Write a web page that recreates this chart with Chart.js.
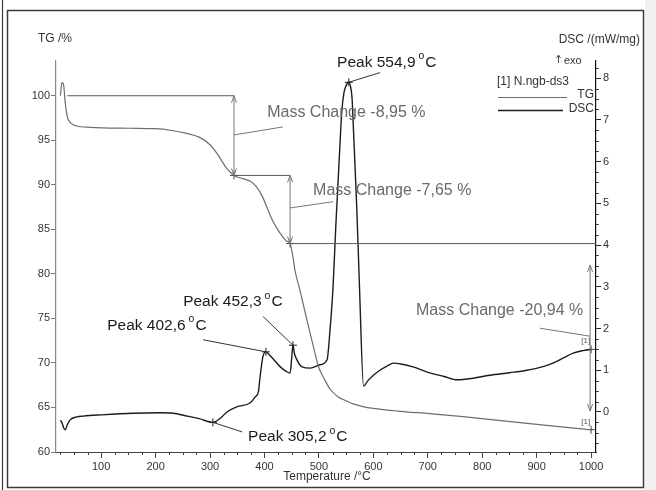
<!DOCTYPE html>
<html><head><meta charset="utf-8">
<script src="https://cdn.jsdelivr.net/npm/chart.js@4.4.0/dist/chart.umd.min.js"></script>
<style>html,body{margin:0;padding:0;background:#fff;}canvas{display:block;}</style>
</head><body>
<canvas id="c" width="656" height="490"></canvas>
<script>
// ---- data ----
const TEMP_TG = [25,28,31,34,38,45,55,80,150,200,230,255,280,300,313,330,344,360,374,385,396,405,414,424,433,440,447,452,456,465,480,490,499,510,520,535,552,563,581,600,644,704,760,870,950,1000];
const TG_PCT  = [100.0,101.5,101.2,99.2,97.6,96.9,96.6,96.45,96.35,96.3,96.1,95.8,95.35,94.5,93.5,91.9,91.05,90.7,90.4,89.8,88.7,87.4,86.1,85.0,84.2,83.7,83.4,82.0,80.4,78.2,74.3,71.8,69.6,68.2,67.1,66.2,65.7,65.4,65.1,64.9,64.6,64.3,64.0,63.3,62.8,62.5];
const TEMP_DSC = [25,28,31,34,38,43,55,67,100,159,208,232,258,280,305.2,319,331,349,374,383,389,392,397,402.6,408,414,429,440,447,450,452.3,455,458,469,484,502,515,520,526,531,539,542,546,550,554.9,558,561,563,569.5,574.5,582,590,600,612,625,637,650,673,700,730,754,780,814,850,882,910,930,950,967,985,1000];
const DSC_VAL  = [-0.2,-0.26,-0.38,-0.43,-0.3,-0.19,-0.12,-0.10,-0.07,-0.03,-0.02,-0.03,-0.10,-0.16,-0.25,-0.15,0.0,0.12,0.22,0.36,0.5,0.85,1.32,1.44,1.38,1.3,1.08,0.97,0.93,1.3,1.6,1.4,1.29,1.08,1.05,1.13,1.25,1.9,3.0,4.45,6.5,7.2,7.65,7.82,7.9,7.8,7.5,6.9,4.9,3.0,0.62,0.75,0.88,1.0,1.1,1.17,1.15,1.08,0.95,0.85,0.77,0.8,0.88,0.94,1.0,1.08,1.17,1.3,1.41,1.47,1.5];

const X_TICKS   = [100,200,300,400,500,600,700,800,900,1000];
const TG_TICKS  = [60,65,70,75,80,85,90,95,100];
const DSC_TICKS = [0,1,2,3,4,5,6,7,8];

const PEAK_T      = [305.2, 402.6, 452.3, 554.9];
const PEAK_DSC    = [-0.25, 1.44, 1.6, 7.9];
const PEAK_LABELS = ['Peak 305,2', 'Peak 402,6', 'Peak 452,3', 'Peak 554,9'];

const STEP_T       = [344, 447];          // mass-change evaluation points
const STEP_LEVELS  = [100, 91.05, 83.4];  // TG levels
const MASS_LABELS  = ['Mass Change -8,95 %', 'Mass Change -7,65 %', 'Mass Change -20,94 %'];
const END_T = 1000, END_TG = 62.5, END_DSC = 1.5;
const TOTAL_ARROW = [81.0, 64.6];         // TG span of the total mass-change arrow at END_T

// ---- label layout (data coordinates: T / TG) ----
const PEAK_TEXT = [ {t:369.9, tg:61.7, lx:359, ly:62.25},
                    {t:111,   tg:74.2, lx:287.3, ly:72.6},
                    {t:250.6, tg:76.85,lx:397.5, ly:75.2},
                    {t:533.4, tg:103.75,lx:612.4, ly:102.6} ];
const MASS_TEXT = [ {t:404.9, tg:98.1,  a:[344,95.6], b:[434,96.5]},
                    {t:489.3, tg:89.4,  a:[447,87.4], b:[526,88.1]},
                    {t:678.4, tg:75.85, a:[906,73.9], b:[998,73.0]} ];

const FONT = 'Liberation Sans, Arial, sans-serif';
const TG_COLOR = '#6e6e6e', DSC_COLOR = '#1c1c1c';

const tgData  = TEMP_TG.map((t,i)=>({x:t, y:TG_PCT[i]}));
const dscData = TEMP_DSC.map((t,i)=>({x:t, y:DSC_VAL[i]}));
const peakData = PEAK_T.map((t,i)=>({x:t, y:PEAK_DSC[i]}));
const tgMarks = [{x:STEP_T[0], y:STEP_LEVELS[1]}, {x:STEP_T[1], y:STEP_LEVELS[2]}, {x:END_T, y:END_TG}];

function line(ctx,x1,y1,x2,y2){ctx.beginPath();ctx.moveTo(x1,y1);ctx.lineTo(x2,y2);ctx.stroke();}
function vArrow(ctx,x,y1,y2){
  line(ctx,x,y1,x,y2);
  const head=(yTip,dir)=>{ctx.beginPath();ctx.moveTo(x-2.5,yTip+dir*7);ctx.lineTo(x,yTip);ctx.lineTo(x+2.5,yTip+dir*7);ctx.stroke();};
  head(y1, y2>y1?1:-1); head(y2, y2>y1?-1:1);
}
function peakText(ctx,label,x,y){
  ctx.font='15.5px '+FONT; ctx.textAlign='left'; ctx.textBaseline='middle';
  ctx.fillText(label,x,y);
  let w=ctx.measureText(label).width;
  ctx.font='10.5px '+FONT; ctx.fillText('o',x+w+3,y-6);
  let w2=ctx.measureText('o').width;
  ctx.font='15.5px '+FONT; ctx.fillText('C',x+w+3+w2+1,y);
}

const frame = {
  id:'frame',
  beforeDraw(chart){
    const ctx=chart.ctx; ctx.save();
    ctx.fillStyle='#fff'; ctx.fillRect(0,0,656,490);
    ctx.fillStyle='#f1f1f1'; ctx.fillRect(645,0,11,490);
    ctx.strokeStyle='#3a3a3a'; ctx.lineWidth=1.5;
    ctx.strokeRect(7.5,10.5,636,477);
    ctx.lineWidth=1.2; line(ctx,2.5,0,2.5,490);
    ctx.restore();
  }
};

const annot = {
  id:'annot',
  afterDatasetsDraw(chart){
    const ctx=chart.ctx, X=chart.scales.x, L=chart.scales.yTG, R=chart.scales.yDSC, ca=chart.chartArea;
    const px=t=>X.getPixelForValue(t), pl=v=>L.getPixelForValue(v), pr=v=>R.getPixelForValue(v);
    ctx.save();
    // minor ticks
    ctx.strokeStyle='#444'; ctx.lineWidth=1;
    for(let t=25;t<=1000;t+=25){ if(t%100===0) continue; const x=Math.round(px(t))+0.5; line(ctx,x,ca.bottom,x,ca.bottom+3); }
    for(let v=-0.75;v<=8.3;v+=0.25){ if(Math.abs(v-Math.round(v))<1e-6) continue; const y=Math.round(pr(v))+0.5; line(ctx,ca.right,y,ca.right+3,y); }
    // mass change levels
    ctx.strokeStyle='#5a5a5a'; ctx.lineWidth=1;
    line(ctx,px(38),pl(STEP_LEVELS[0]),px(STEP_T[0]),pl(STEP_LEVELS[0]));
    line(ctx,px(STEP_T[0]),pl(STEP_LEVELS[1]),px(STEP_T[1]),pl(STEP_LEVELS[1]));
    line(ctx,px(STEP_T[1]),pl(STEP_LEVELS[2]),ca.right,pl(STEP_LEVELS[2]));
    ctx.strokeStyle='#777';
    vArrow(ctx,px(STEP_T[0]),pl(STEP_LEVELS[0]),pl(STEP_LEVELS[1]));
    vArrow(ctx,px(STEP_T[1]),pl(STEP_LEVELS[1]),pl(STEP_LEVELS[2]));
    vArrow(ctx,px(END_T)-1,pl(TOTAL_ARROW[0]),pl(TOTAL_ARROW[1]));
    // mass change labels
    MASS_TEXT.forEach((m,i)=>{
      ctx.strokeStyle='#777'; line(ctx,px(m.a[0]),pl(m.a[1]),px(m.b[0]),pl(m.b[1]));
      ctx.fillStyle='#6a6a6a'; ctx.font='16px '+FONT; ctx.textAlign='left'; ctx.textBaseline='middle';
      ctx.fillText(MASS_LABELS[i],px(m.t),pl(m.tg));
    });
    // peak labels
    PEAK_TEXT.forEach((p,i)=>{
      ctx.strokeStyle='#333'; line(ctx,px(PEAK_T[i]),pr(PEAK_DSC[i]),px(p.lx),pl(p.ly));
      ctx.fillStyle='#1a1a1a'; peakText(ctx,PEAK_LABELS[i],px(p.t),pl(p.tg));
    });
    // small [1] tags at curve ends
    ctx.fillStyle='#555'; ctx.font='8px '+FONT; ctx.textAlign='right'; ctx.textBaseline='alphabetic';
    ctx.fillText('[1]',px(END_T)-1,pr(END_DSC)-6);
    ctx.fillText('[1]',px(END_T)-1,pl(END_TG)-6);
    ctx.restore();
  },
  afterDraw(chart){
    const ctx=chart.ctx; ctx.save();
    ctx.fillStyle='#333'; ctx.textBaseline='middle';
    ctx.font='12px '+FONT; ctx.textAlign='left'; ctx.fillText('TG /%',38,39);
    ctx.textAlign='right'; ctx.fillText('DSC /(mW/mg)',640,40);
    ctx.font='11px '+FONT; ctx.textAlign='left'; ctx.fillText('exo',564,61);
    ctx.strokeStyle='#555'; ctx.lineWidth=1; line(ctx,558.5,63,558.5,55);
    ctx.beginPath(); ctx.moveTo(556.5,58); ctx.lineTo(558.5,55); ctx.lineTo(560.5,58); ctx.stroke();
    ctx.font='12px '+FONT; ctx.fillText('[1] N.ngb-ds3',497,82);
    ctx.strokeStyle=TG_COLOR; line(ctx,498,97.5,567,97.5);
    ctx.strokeStyle=DSC_COLOR; ctx.lineWidth=1.3; line(ctx,498,110.5,563,110.5);
    ctx.textAlign='right'; ctx.fillText('TG',594,95); ctx.fillText('DSC',594,109);
    ctx.textAlign='center'; ctx.font='12px '+FONT; ctx.fillText('Temperature /°C',327,477);
    ctx.restore();
  }
};

new Chart(document.getElementById('c'), {
  type:'line',
  data:{datasets:[
    {label:'TG', data:tgData, yAxisID:'yTG', borderColor:TG_COLOR, borderWidth:1.2, pointRadius:0, cubicInterpolationMode:'monotone'},
    {label:'DSC', data:dscData, yAxisID:'yDSC', borderColor:DSC_COLOR, borderWidth:1.4, pointRadius:0, cubicInterpolationMode:'monotone'},
    {type:'scatter', label:'peaks', data:peakData, yAxisID:'yDSC', pointStyle:'cross', pointRadius:4, borderColor:'#222', borderWidth:1, backgroundColor:'#222'},
    {type:'scatter', label:'tgmarks', data:tgMarks, yAxisID:'yTG', pointStyle:'cross', pointRadius:4, borderColor:'#444', borderWidth:1},
    {type:'scatter', label:'dscend', data:[{x:END_T,y:END_DSC}], yAxisID:'yDSC', pointStyle:'cross', pointRadius:4, borderColor:'#444', borderWidth:1}
  ]},
  options:{
    responsive:false, animation:false, events:[],
    layout:{padding:{top:61,left:0,right:0,bottom:0}},
    plugins:{legend:{display:false}, tooltip:{enabled:false}},
    scales:{
      x:{type:'linear', min:17, max:1009,
         afterBuildTicks:s=>{s.ticks=X_TICKS.map(v=>({value:v}));},
         afterFit:s=>{s.height=38;},
         grid:{drawOnChartArea:false, tickLength:6, color:'#444'},
         border:{display:true,color:'#444',width:1},
         ticks:{font:{family:FONT,size:11}, color:'#333', padding:2, maxRotation:0, autoSkip:false, callback:v=>String(v)}},
      yTG:{position:'left', min:60, max:103.9,
         afterBuildTicks:s=>{s.ticks=TG_TICKS.map(v=>({value:v}));},
         afterFit:s=>{s.width=56;},
         grid:{drawOnChartArea:false, tickLength:5, color:'#777'},
         border:{display:true,color:'#888',width:1.2},
         ticks:{font:{family:FONT,size:11}, color:'#333', padding:1, callback:v=>String(v)}},
      yDSC:{position:'right', min:-0.96, max:8.41,
         afterBuildTicks:s=>{s.ticks=DSC_TICKS.map(v=>({value:v}));},
         afterFit:s=>{s.width=60;},
         grid:{drawOnChartArea:false, tickLength:5, color:'#222'},
         border:{display:true,color:'#111',width:1.2},
         ticks:{font:{family:FONT,size:11}, color:'#333', padding:2, callback:v=>String(v)}}
    }
  },
  plugins:[frame, annot]
});
</script>
</body></html>
